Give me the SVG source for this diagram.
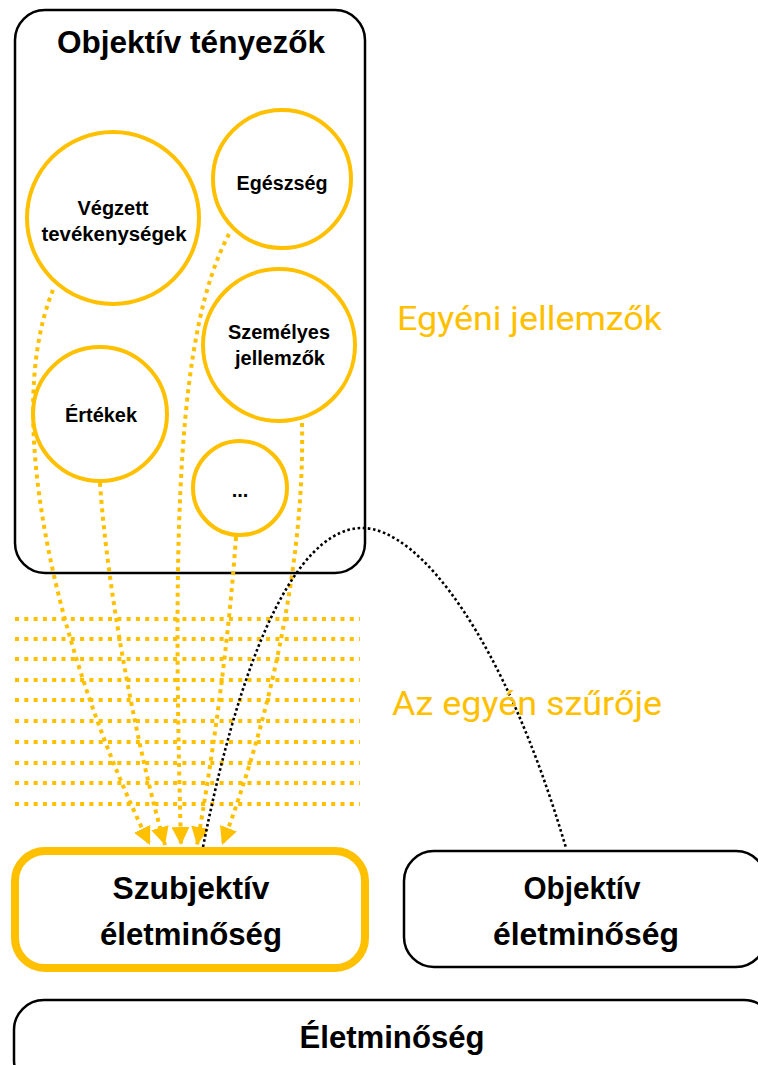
<svg xmlns="http://www.w3.org/2000/svg" width="758" height="1065" viewBox="0 0 758 1065">
  <style>
    .box { fill: #fff; stroke: #000; stroke-width: 2.5; }
    .hl { fill: #fff; stroke: #FFC000; stroke-width: 8; }
    .circ { fill: #fff; stroke: #FFC000; stroke-width: 4; }
    .lbl { font-family: "Liberation Sans Narrow", "Liberation Sans", Arial, sans-serif; font-weight: bold; fill: #000; text-anchor: middle; }
    .big { font-size: 32px; }
    .small { font-size: 20px; }
    .note { font-family: Roboto, "Liberation Sans", Arial, sans-serif; font-size: 33px; fill: #FFC000; }
    .flow { fill: none; stroke: #FFC000; stroke-width: 4; stroke-dasharray: 4 4.5; }
    .filter { fill: none; stroke: #FFC000; stroke-width: 4; stroke-dasharray: 4 5.3; }
    .link { fill: none; stroke: #000; stroke-width: 2.6; stroke-dasharray: 2.6 2.6; }
  </style>
  <defs>
    <marker id="tri" viewBox="0 0 10 10" refX="10" refY="5" markerWidth="18" markerHeight="18" markerUnits="userSpaceOnUse" orient="auto">
      <path d="M0,0 L10,5 L0,10 z" fill="#FFC000"/>
    </marker>
  </defs>

  <!-- objective factors container -->
  <g id="objektiv-tenyezok">
    <rect class="box" x="15" y="10" width="350" height="563" rx="30"/>
    <text class="lbl big" x="191" y="53" textLength="268" lengthAdjust="spacingAndGlyphs">Objektív tényezők</text>
  </g>

  <g id="vegzett">
    <circle class="circ" cx="113" cy="218" r="86"/>
    <text class="lbl small" x="113" y="215" textLength="71" lengthAdjust="spacingAndGlyphs">Végzett</text>
    <text class="lbl small" x="114" y="241" textLength="145" lengthAdjust="spacingAndGlyphs">tevékenységek</text>
  </g>
  <g id="egeszseg">
    <circle class="circ" cx="282" cy="179" r="69"/>
    <text class="lbl small" x="282" y="190" textLength="91" lengthAdjust="spacingAndGlyphs">Egészség</text>
  </g>
  <g id="szemelyes">
    <circle class="circ" cx="279" cy="345" r="76"/>
    <text class="lbl small" x="279" y="339" textLength="102" lengthAdjust="spacingAndGlyphs">Személyes</text>
    <text class="lbl small" x="280" y="365" textLength="90" lengthAdjust="spacingAndGlyphs">jellemzők</text>
  </g>
  <g id="ertekek">
    <circle class="circ" cx="100" cy="414" r="67"/>
    <text class="lbl small" x="101" y="422" textLength="72" lengthAdjust="spacingAndGlyphs">Értékek</text>
  </g>
  <g id="egyeb">
    <circle class="circ" cx="240" cy="488" r="47"/>
    <text class="lbl small" x="240" y="497">...</text>
  </g>

  <!-- filter band -->
  <g id="szuro">
    <path class="filter" d="M15,619 H360 M15,639 H360 M15,659 H360 M15,680 H360 M15,700 H360 M15,721 H360 M15,742 H360 M15,763 H360 M15,783 H360 M15,804 H360"/>
  </g>

  <g id="connectors">
    <path class="flow" marker-end="url(#tri)" d="M53,290 C0,420 60,660 150,845"/>
    <path class="flow" marker-end="url(#tri)" d="M229,234 C178,330 172,520 181,845"/>
    <path class="flow" marker-end="url(#tri)" d="M100,483 C108,600 140,760 165,845"/>
    <path class="flow" marker-end="url(#tri)" d="M236,537 C228,650 212,760 197,845"/>
    <path class="flow" marker-end="url(#tri)" d="M302,423 C305,560 270,720 222,845"/>
    <path class="link" d="M203,847 C260,560 330,528 362,528 C420,528 505,640 566,848"/>
  </g>

  <g id="egyeni-jellemzok">
    <text class="note" x="397" y="330" textLength="265" lengthAdjust="spacingAndGlyphs">Egyéni jellemzők</text>
  </g>
  <g id="az-egyen-szuroje">
    <text class="note" x="392" y="715" textLength="270" lengthAdjust="spacingAndGlyphs">Az egyén szűrője</text>
  </g>

  <g id="szubjektiv">
    <rect class="hl" x="15" y="851" width="350" height="117" rx="30"/>
    <text class="lbl big" x="191" y="899" textLength="157" lengthAdjust="spacingAndGlyphs">Szubjektív</text>
    <text class="lbl big" x="191" y="945" textLength="182" lengthAdjust="spacingAndGlyphs">életminőség</text>
  </g>
  <g id="objektiv">
    <rect class="box" x="404" y="851" width="362" height="116" rx="30"/>
    <text class="lbl big" x="582" y="899" textLength="117" lengthAdjust="spacingAndGlyphs">Objektív</text>
    <text class="lbl big" x="586" y="945" textLength="186" lengthAdjust="spacingAndGlyphs">életminőség</text>
  </g>
  <g id="eletminoseg">
    <rect class="box" x="14" y="1000" width="760" height="90" rx="30"/>
    <text class="lbl big" x="392" y="1048" textLength="185" lengthAdjust="spacingAndGlyphs">Életminőség</text>
  </g>
</svg>
